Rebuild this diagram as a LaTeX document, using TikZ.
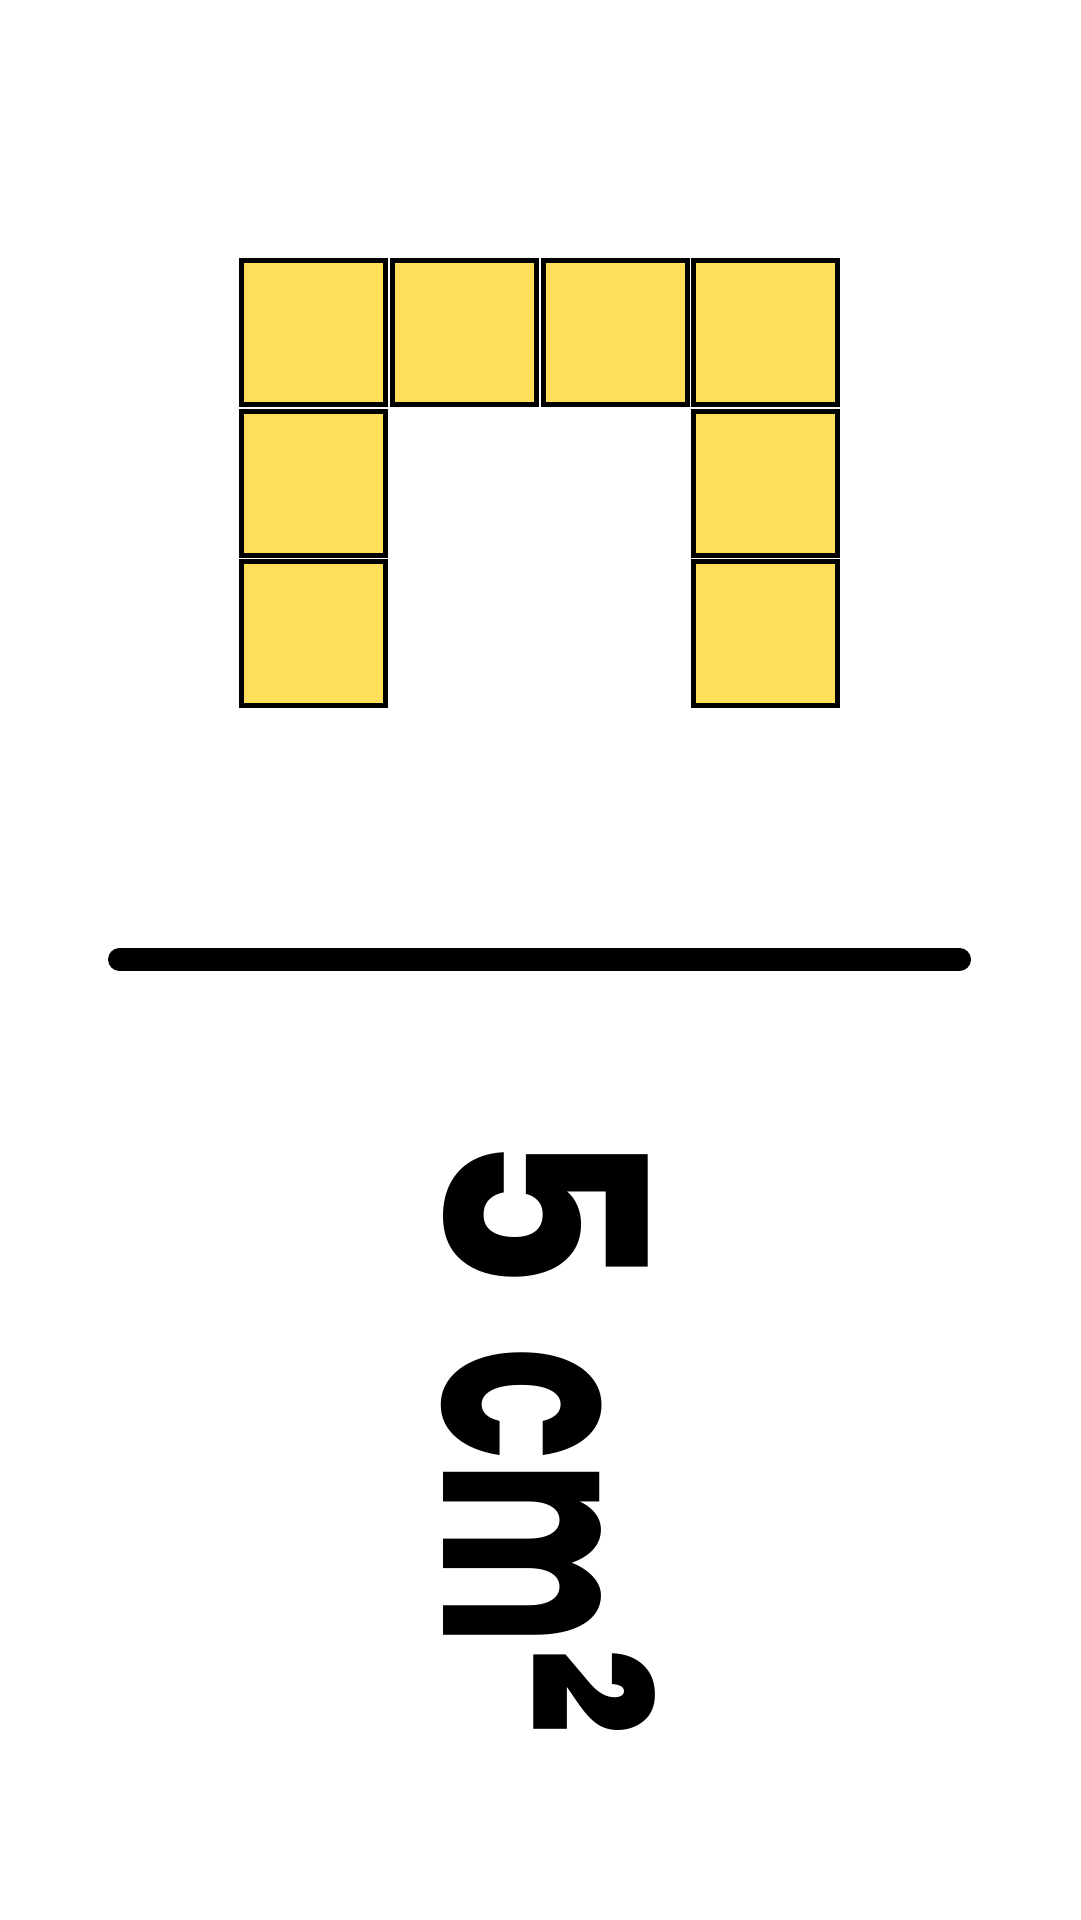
\documentclass[tikz,border=0pt]{standalone}
\usepackage{fontspec}
\setmainfont{Poppins}
\definecolor{tileyellow}{HTML}{FFDE59}
\tikzset{
  tile/.style={draw=black, fill=tileyellow, line width=5pt, minimum size=144pt, inner sep=0pt},
}
\begin{document}
\begin{tikzpicture}[x=1pt, y=-1pt]
  \useasboundingbox (0,0) rectangle (1080,1920);
  % top row
  \node[tile] (t1) at (313.5,332.5) {};
  \node[tile] (t2) at (464.5,332.5) {};
  \node[tile] (t3) at (615.3,332.5) {};
  \node[tile] (t4) at (765.3,332.5) {};
  % legs
  \node[tile] (l1) at (313.5,483.5) {};
  \node[tile] (l2) at (313.5,633.5) {};
  \node[tile] (r1) at (765.3,483.5) {};
  \node[tile] (r2) at (765.3,633.5) {};
  % fraction bar
  \coordinate (bar-l) at (119.5,959.5);
  \coordinate (bar-r) at (959.5,959.5);
  \draw[line width=23pt, line cap=round] (bar-l) -- (bar-r);
  % area label
  \node[rotate=-90, anchor=base west, inner sep=0pt, font=\bfseries\fontsize{280}{300}\selectfont]
    (area) at (443,1132) {\scalebox{0.86}[1]{5}\hspace{59pt}\scalebox{0.67}[1]{c}\scalebox{0.62}[1]{m}\raisebox{-28pt}{\scalebox{0.86}[1.2]{²}}};
\end{tikzpicture}
\end{document}
